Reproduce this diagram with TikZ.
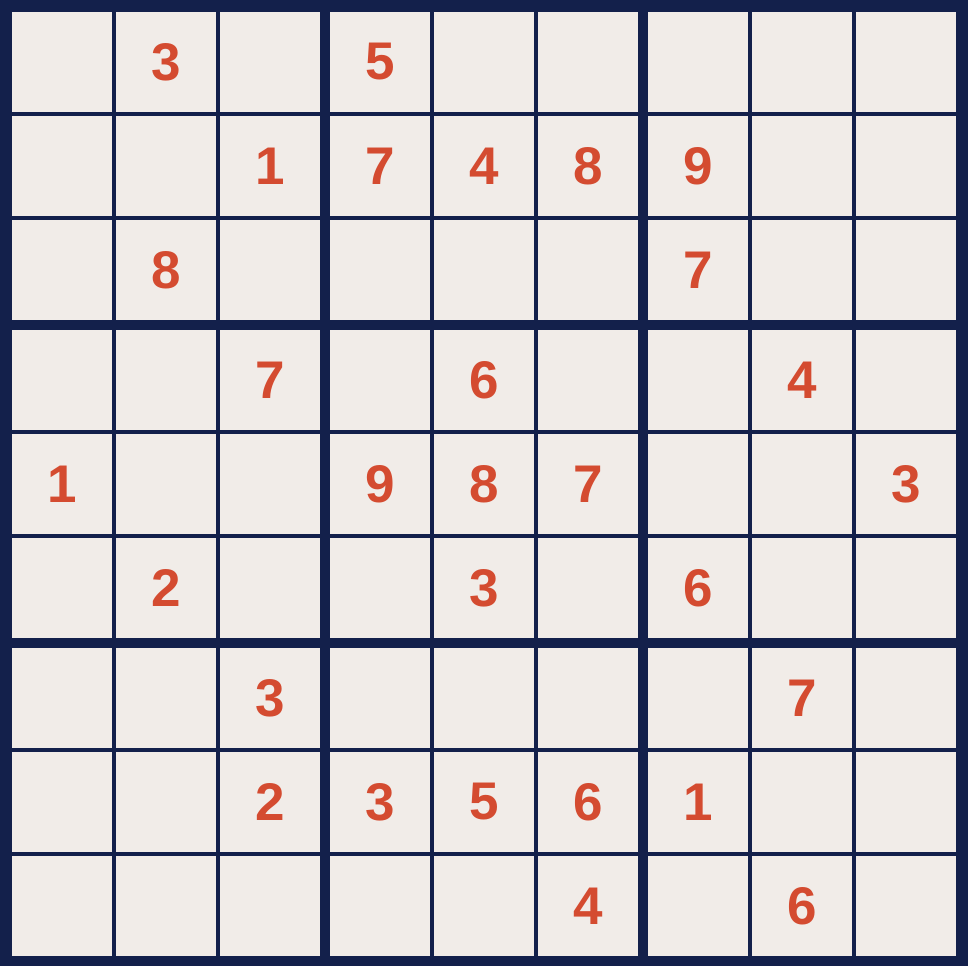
\documentclass[tikz,border=0pt]{standalone}
\usepackage{fontspec}
\setmainfont{Liberation Sans}
\definecolor{gridnavy}{RGB}{19,32,75}
\definecolor{cellpaper}{RGB}{241,236,232}
\definecolor{digitred}{RGB}{212,75,48}
\begin{document}
\begin{tikzpicture}[x=1pt, y=-1pt,
cell/.style={fill=cellpaper, minimum size=100pt, inner sep=0pt, text=digitred,
  font=\bfseries\fontsize{53}{53}\selectfont}]

%%%%%%%% SETTINGS %%%%%%%%%%%%%
\pgfmathsetmacro{\Step}{104}
\pgfmathsetmacro{\Gap}{6}
%%%%%%%%%%%%%%%%%%%%%%%%%%%

\fill[gridnavy] (0,0) rectangle (968,966);

\foreach \r/\row in {1/{0,3,0,5,0,0,0,0,0}, 2/{0,0,1,7,4,8,9,0,0},
  3/{0,8,0,0,0,0,7,0,0}, 4/{0,0,7,0,6,0,0,4,0}, 5/{1,0,0,9,8,7,0,0,3},
  6/{0,2,0,0,3,0,6,0,0}, 7/{0,0,3,0,0,0,0,7,0}, 8/{0,0,2,3,5,6,1,0,0},
  9/{0,0,0,0,0,4,0,6,0}}{
 \foreach \v [count=\c] in \row {
  \pgfmathsetmacro{\cx}{62+\Step*(\c-1)+\Gap*floor((\c-1)/3)}
  \pgfmathsetmacro{\cy}{62+\Step*(\r-1)+\Gap*floor((\r-1)/3)}
  \ifnum\v=0
   \node[cell](c\r\c) at (\cx,\cy){};
  \else
   \node[cell](c\r\c) at (\cx,\cy){\v};
  \fi
 }
}
\end{tikzpicture}
\end{document}
